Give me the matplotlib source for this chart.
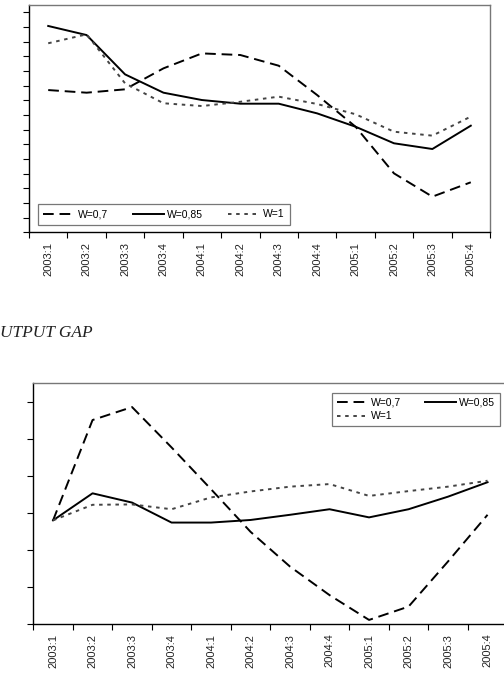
import matplotlib
matplotlib.use("Agg")
import matplotlib.pyplot as plt
import numpy as np

plt.rcParams['font.family'] = ['Liberation Sans', 'DejaVu Sans']

quarters = ["2003:1", "2003:2", "2003:3", "2003:4", "2004:1", "2004:2",
            "2004:3", "2004:4", "2005:1", "2005:2", "2005:3", "2005:4"]

# top panel (values in tick units, no y labels in the source)
top_w07 = [9.70, 9.52, 9.75, 11.18, 12.20, 12.09, 11.36, 9.36, 7.20, 4.02, 2.43, 3.41]
top_w085 = [14.07, 13.45, 10.77, 9.52, 9.02, 8.77, 8.77, 8.11, 7.20, 6.07, 5.68, 7.27]
top_w1 = [12.89, 13.50, 10.16, 8.80, 8.61, 8.90, 9.25, 8.75, 8.05, 6.86, 6.59, 7.89]

# bottom panel: output gap
gap_w07 = [2.80, 5.51, 5.86, 4.77, 3.64, 2.49, 1.55, 0.78, 0.11, 0.47, 1.69, 2.95]
gap_w085 = [2.80, 3.53, 3.28, 2.74, 2.74, 2.81, 2.95, 3.10, 2.88, 3.10, 3.44, 3.83]
gap_w1 = [2.80, 3.22, 3.23, 3.10, 3.42, 3.58, 3.71, 3.78, 3.46, 3.59, 3.71, 3.87]

labels = ["W=0,7", "W=0,85", "W=1"]

fig = plt.figure(figsize=(5.04, 6.79), dpi=100)

ax1 = fig.add_axes([29 / 504, 1 - 232.3 / 679, 461 / 504, 227.3 / 679])
ax2 = fig.add_axes([33.3 / 504, 1 - 624 / 679, 474 / 504, 241 / 679])


def style_axis(ax, n_yticks, ytop):
    x = np.arange(len(quarters))
    ax.set_xlim(-0.5, len(quarters) - 0.5)
    ax.set_ylim(0, ytop)
    ax.set_xticks(np.arange(-0.5, len(quarters), 1))
    ax.set_xticklabels([])
    ax.set_xticks(x, minor=True)
    ax.set_xticklabels(quarters, minor=True, rotation=90, fontsize=8, color="#222222")
    ax.tick_params(axis="x", which="major", length=4, width=0.8, direction="out")
    ax.tick_params(axis="x", which="minor", length=0, pad=7)
    ax.set_yticks(np.arange(0, n_yticks))
    ax.set_yticklabels([])
    ax.tick_params(axis="y", length=4, width=0.8, direction="out")
    for side in ["top", "right"]:
        ax.spines[side].set_color("#777777")
        ax.spines[side].set_linewidth(1.0)
    for side in ["left", "bottom"]:
        ax.spines[side].set_color("black")
        ax.spines[side].set_linewidth(1.0)


def draw_lines(ax, a, b, c):
    x = np.arange(len(quarters))
    l1, = ax.plot(x, a, color="black", lw=1.4, linestyle=(0, (5.5, 3.0)), label=labels[0])
    l2, = ax.plot(x, b, color="black", lw=1.4, linestyle="-", label=labels[1])
    l3, = ax.plot(x, c, color="#444444", lw=1.4, linestyle=(0, (1.8, 2.4)), label=labels[2])
    return l1, l2, l3


h1 = draw_lines(ax1, top_w07, top_w085, top_w1)
style_axis(ax1, 16, 15.5)
leg1 = ax1.legend(h1, labels, loc="lower left", bbox_to_anchor=(0.019, 0.032, 0.547, 0.097),
                  ncol=3, mode="expand", fontsize=7.5, frameon=True, fancybox=False,
                  handlelength=3.0, handletextpad=0.3, borderpad=0.55, columnspacing=1.5,
                  borderaxespad=0)
leg1.get_frame().set_edgecolor("#555555")
leg1.get_frame().set_linewidth(0.9)

h2 = draw_lines(ax2, gap_w07, gap_w085, gap_w1)
style_axis(ax2, 7, 6.51)
# column-wise fill: W=0,7 / W=1 in first column, W=0,85 in second
leg2 = ax2.legend([h2[0], h2[2], h2[1]], [labels[0], labels[2], labels[1]],
                  loc="upper left", bbox_to_anchor=(0.63, 0.813, 0.354, 0.145), ncol=2,
                  mode="expand", fontsize=7.5, frameon=True, fancybox=False,
                  handlelength=3.0, handletextpad=0.3, borderpad=0.45, labelspacing=0.35,
                  columnspacing=1.0, borderaxespad=0)
leg2.get_frame().set_edgecolor("#555555")
leg2.get_frame().set_linewidth(0.9)

fig.text(0.0, 1 - 333 / 679, "UTPUT GAP", fontsize=12.5, family="Liberation Serif",
         style="italic", va="center", ha="left", color="#222222")

fig.savefig("out.png", dpi=100)
